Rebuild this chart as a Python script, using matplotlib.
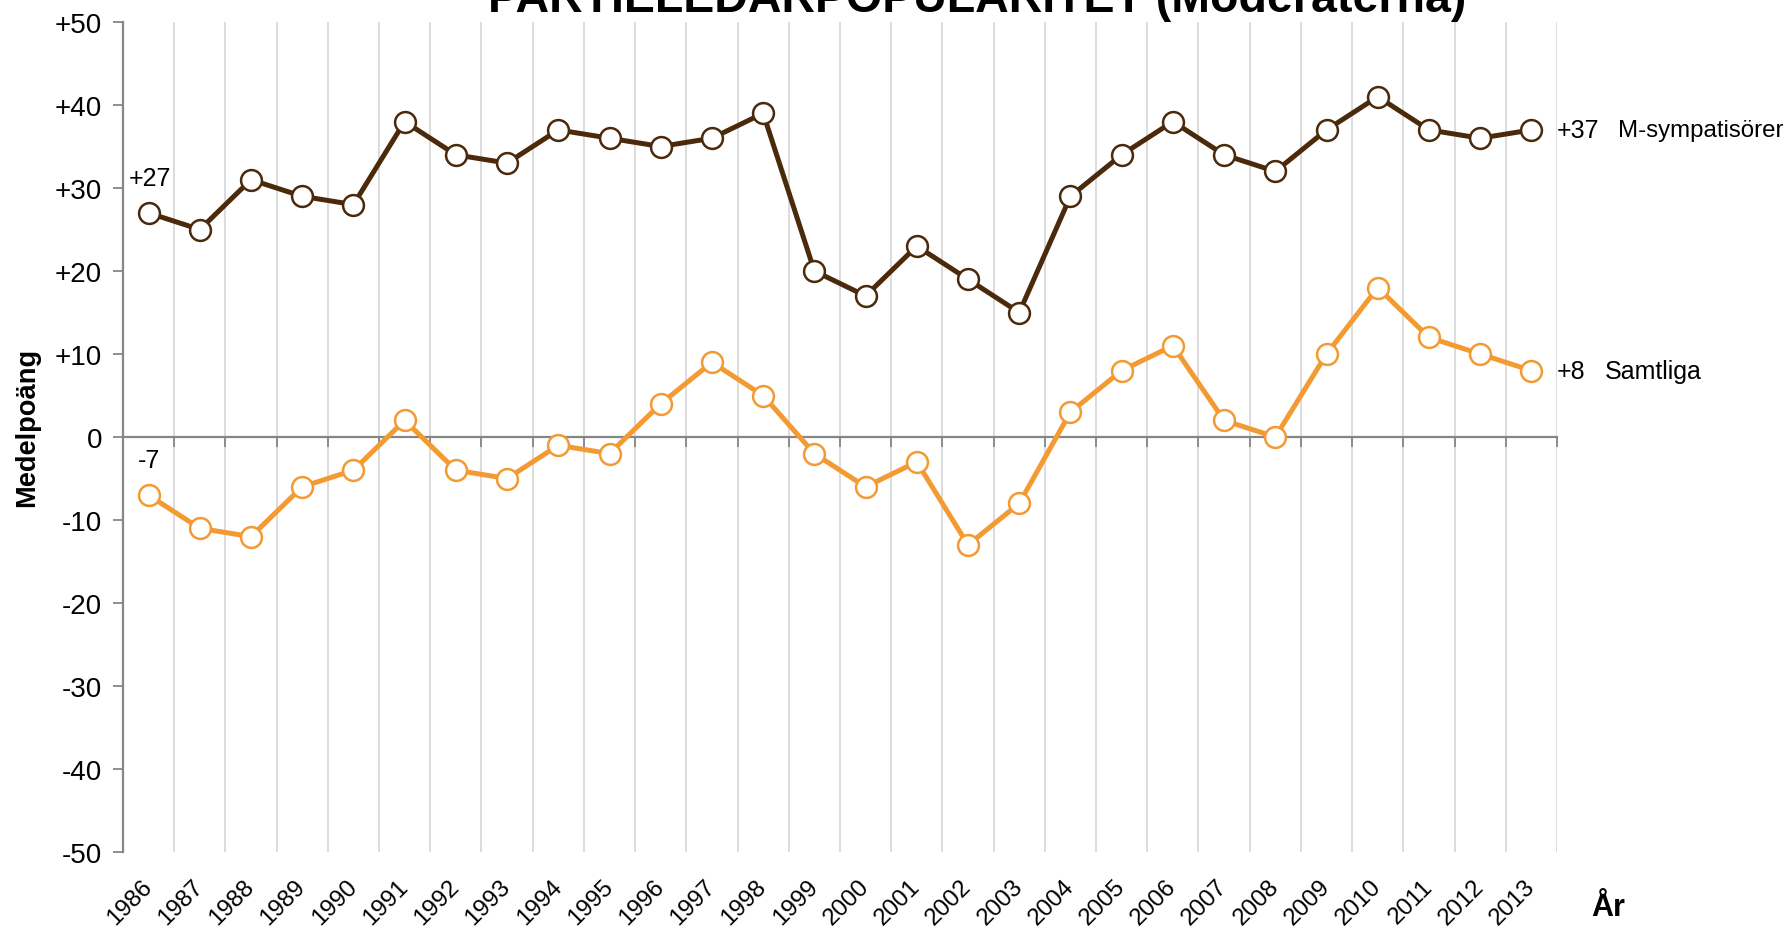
import matplotlib.pyplot as plt

# data
years = [str(y) for y in range(1986, 2014)]
m_symp = [27, 25, 31, 29, 28, 38, 34, 33, 37, 36, 35, 36, 39, 20,
          17, 23, 19, 15, 29, 34, 38, 34, 32, 37, 41, 37, 36, 37]
samtliga = [-7, -11, -12, -6, -4, 2, -4, -5, -1, -2, 4, 9, 5, -2,
            -6, -3, -13, -8, 3, 8, 11, 2, 0, 10, 18, 12, 10, 8]
yticks = list(range(-50, 51, 10))
ytick_labels = [("+%d" % v if v > 0 else str(v)) for v in yticks]

plt.rcParams['font.family'] = ['Liberation Sans', 'DejaVu Sans']

fig = plt.figure(figsize=(17.87, 9.28), dpi=100)
ax = fig.add_axes([0.0688, 0.0808, 0.8025, 0.8944])

x = list(range(len(years)))
brown = '#4B2A0C'
orange = '#F39A33'
axgray = '#868686'

# vertical gridlines at category boundaries
for k in range(1, len(years) + 1):
    ax.axvline(k - 0.5, color='#D9D9D9', lw=1.3, zorder=0)

ax.plot(x, m_symp, color=brown, lw=3.6, marker='o', ms=15,
        mfc='white', mec=brown, mew=1.8, zorder=3, clip_on=False)
ax.plot(x, samtliga, color=orange, lw=3.6, marker='o', ms=15,
        mfc='white', mec=orange, mew=1.8, zorder=3, clip_on=False)

ax.set_xlim(-0.5, len(years) - 0.5)
ax.set_ylim(-50, 50)
ax.set_yticks(yticks)
ax.set_yticklabels(ytick_labels, fontsize=20)
ax.tick_params(axis='y', length=7, width=1.3, color=axgray, pad=8)

ax.set_xticks(x)
ax.set_xticklabels(years, fontsize=17.4, rotation=45, ha='right',
                   va='center', rotation_mode='anchor')
ax.tick_params(axis='x', length=0, pad=22)

for s in ['top', 'right', 'bottom']:
    ax.spines[s].set_visible(False)
ax.spines['left'].set_color(axgray)
ax.spines['left'].set_linewidth(1.6)

# zero axis with ticks at category boundaries
zax = ax.secondary_xaxis(0.5)
zax.set_xticks([k - 0.5 for k in range(1, len(years) + 1)])
zax.set_xticklabels([])
zax.tick_params(length=7, width=1.3, color=axgray, direction='in')
for sp in zax.spines.values():
    sp.set_color(axgray)
    sp.set_linewidth(1.6)

# value labels
fs = 18
ax.annotate("+%d" % m_symp[0], (x[0], m_symp[0]), xytext=(-14, 25),
            textcoords='offset points', fontsize=fs, va='center', ha='left')
ax.annotate(str(samtliga[0]), (x[0], samtliga[0]), xytext=(-8, 25),
            textcoords='offset points', fontsize=fs, va='center', ha='left')
ax.annotate("+%d" % m_symp[-1], (x[-1], m_symp[-1]), xytext=(18, 0),
            textcoords='offset points', fontsize=fs, va='center', ha='left')
ax.annotate("M-sympatisörer", (x[-1], m_symp[-1]), xytext=(62, 0),
            textcoords='offset points', fontsize=17.3, va='center', ha='left')
ax.annotate("+%d" % samtliga[-1], (x[-1], samtliga[-1]), xytext=(18, 0),
            textcoords='offset points', fontsize=fs, va='center', ha='left')
ax.annotate("Samtliga", (x[-1], samtliga[-1]), xytext=(53, 0),
            textcoords='offset points', fontsize=fs, va='center', ha='left')

ax.set_ylabel("Medelpoäng", fontsize=19.6, fontweight='bold')
ax.yaxis.set_label_coords(-0.058, 0.513)
fig.text(0.9, 0.013, "År", fontsize=22, fontweight='bold', ha='center')

fig.text(0.5467, 0.987, "PARTIELEDARPOPULARITET (Moderaterna)",
         fontsize=33.5, fontweight='bold', ha='center', va='baseline',
         family=['Liberation Sans Narrow', 'Liberation Sans', 'DejaVu Sans'])

fig.savefig("out.png", dpi=100)
